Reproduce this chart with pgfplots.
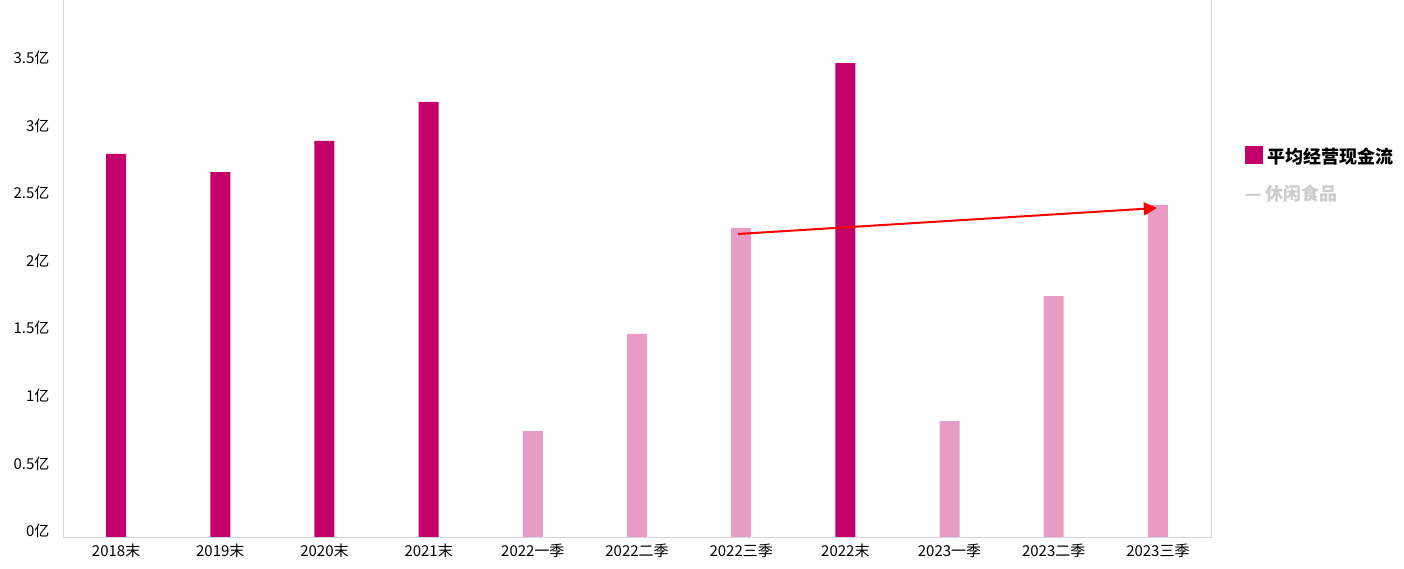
\documentclass[border=0pt]{standalone}
\usepackage{fontspec}
\setmainfont{Noto Sans CJK SC}
\usepackage{pgfplots}
\pgfplotsset{compat=1.18}
\usetikzlibrary{arrows.meta}
\definecolor{darkm}{HTML}{C4006A}
\definecolor{lightm}{HTML}{E89CC5}
\definecolor{axgray}{HTML}{D0D5E0}
\begin{document}
\begin{tikzpicture}[x=1bp,y=1bp]
\useasboundingbox (0,0) rectangle (1404,569);
\begin{axis}[
  at={(63bp,32bp)}, anchor=south west,
  scale only axis, width=1148bp, height=540.6bp,
  xmin=-0.51, xmax=10.51, ymin=0, ymax=4.0,
  xtick={0,...,10},
  xticklabels={2018末,2019末,2020末,2021末,2022一季,2022二季,2022三季,2022末,2023一季,2023二季,2023三季},
  ytick={0,0.5,1,1.5,2,2.5,3,3.5},
  yticklabels={0亿,0.5亿,1亿,1.5亿,2亿,2.5亿,3亿,3.5亿},
  major tick length=0pt,
  axis line style={axgray},
  ticklabel style={font=\fontsize{15bp}{17bp}\selectfont, text=black},
  yticklabel style={yshift=6bp, xshift=-10bp},
  xticklabel style={yshift=-3bp},
  clip=false,
]
\addplot[ybar, bar width=20bp, bar shift=0pt, fill=darkm, draw=none] coordinates {
  (0,2.834) (1,2.70) (2,2.93) (3,3.22) (7,3.507)
};
\addplot[ybar, bar width=20bp, bar shift=0pt, fill=lightm, draw=none] coordinates {
  (4,0.784) (5,1.502) (6,2.287) (8,0.858) (9,1.783) (10,2.457)
};
\addplot[red, line width=2bp, -{Triangle[length=13bp,width=13bp]}] coordinates {
  (5.97,2.242) (9.99,2.434)
};
\end{axis}
\fill[darkm] (1245,405) rectangle (1263,423);
\node[anchor=west, inner sep=0pt, font=\fontsize{18bp}{20bp}\selectfont\bfseries] at (1267,412) {平均经营现金流};
\node[anchor=west, inner sep=0pt, font=\fontsize{18bp}{20bp}\selectfont\bfseries, text=black!20] at (1245,375) {— 休闲食品};
\end{tikzpicture}
\end{document}
